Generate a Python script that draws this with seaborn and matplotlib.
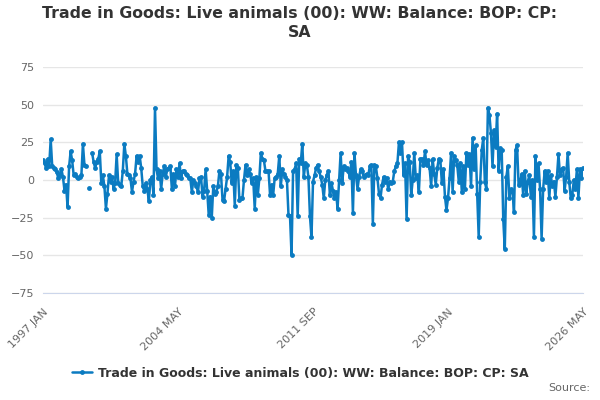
import numpy as np
import pandas as pd
import seaborn as sns
import matplotlib.pyplot as plt

# monthly balance, 1997 JAN .. 2026 MAY
y1997 = [13, 11, 8, 14, 9, 27, 9, 8, 7, 5, 1, 3]
y1998 = [7, 2, -7, -3, -18, 9, 19, 13, 3, 4, 2, 1]
y1999 = [2, 3, 24, 10, 9, np.nan, -5, np.nan, 18, 12, 8, 12]
y2000 = [14, 19, -2, 3, -4, -19, -9, 3, -1, 2, -6, -2]
y2001 = [17, -2, -3, -4, 6, 24, 16, 4, 3, 1, -8, -1]
y2002 = [4, 16, 12, 16, 8, -4, -7, -2, -6, -14, 0, 2]
y2003 = [-10, 48, 7, 1, 6, -6, 4, 9, 2, 7, 8, 9]
y2004 = [-6, 4, -4, 7, 2, 11, 1, 6, 6, 4, 3, 1]
y2005 = [1, -8, 0, -2, -4, -8, 1, 2, -11, -7, 7, -7]
y2006 = [-23, -11, -25, -4, -9, -8, -4, 6, 4, -13, -14, -6]
y2007 = [2, 16, 12, -2, 6, -17, 10, 8, -13, -12, -12, 0]
y2008 = [10, 3, 7, 4, -2, 1, -19, 2, -10, 1, 18, 14]
y2009 = [13, 6, 6, 6, -10, -3, -10, 1, 2, 4, 16, -4]
y2010 = [7, 4, 2, 0, -23, -24, -50, 6, 7, 11, -24, 14]
y2011 = [11, 24, 2, 11, 10, 2, -24, -38, -1, 3, 8, 10]
y2012 = [6, 2, -3, -12, 0, 3, 6, -10, -2, -7, -12, -8]
y2013 = [-19, 0, 18, -2, 9, 7, 8, 6, 2, 12, -22, 18]
y2014 = [3, -6, 2, 7, 6, 2, 3, 4, 3, 9, 10, -29]
y2015 = [10, 9, 1, -9, -12, -3, 2, -1, 1, -6, -1, -2]
y2016 = [-1, 6, 9, 11, 25, 18, 25, 3, 11, -26, 16, 12]
y2017 = [-10, 0, 18, 1, 3, -8, 14, 14, 10, 19, 10, 13]
y2018 = [8, -4, 14, 4, -3, 8, 14, 13, -2, 7, -11, -20]
y2019 = [-12, 1, 18, -8, 16, 13, 10, -1, 11, -8, 9, -6]
y2020 = [18, 10, 17, -4, 28, 7, 23, -9, -38, -1, 20, 28]
y2021 = [-1, -6, 48, 43, 31, 9, 33, 22, 44, 6, 21, 20]
y2022 = [-26, -46, 2, 9, -12, -6, -7, -21, 20, 23, -3, -2]
y2023 = [4, -10, 6, -9, -1, 3, -11, 0, -38, 16, 0, 11]
y2024 = [-6, -39, -6, 6, -1, 6, -12, 3, -4, -1, -11, 2]
y2025 = [17, 3, 7, 8, -7, 2, 18, -1, -12, -10, 0, -6]
y2026 = [7, -12, 7, 1, 8]

tick_labels = ['1997 JAN', '2004 MAY', '2011 SEP', '2019 JAN', '2026 MAY']
series_name = 'Trade in Goods: Live animals (00): WW: Balance: BOP: CP: SA'

values = (y1997 + y1998 + y1999 + y2000 + y2001 + y2002 + y2003 + y2004 + y2005 + y2006
          + y2007 + y2008 + y2009 + y2010 + y2011 + y2012 + y2013 + y2014 + y2015 + y2016
          + y2017 + y2018 + y2019 + y2020 + y2021 + y2022 + y2023 + y2024 + y2025 + y2026)
df = pd.DataFrame({'month': np.arange(len(values)), 'value': values})
# break the line where a month is missing
df['seg'] = df['value'].isna().cumsum()
df = df.dropna()

sns.set_style('white')
plt.rcParams['font.family'] = ['DejaVu Sans']

fig = plt.figure(figsize=(6, 4), dpi=100)
ax = fig.add_axes([0.0717, 0.268, 0.9, 0.564])

line_col = '#0b7bc1'
sns.lineplot(data=df, x='month', y='value', units='seg', ax=ax, color=line_col,
             linewidth=1.8, marker='o', markersize=3.5, markeredgewidth=0,
             estimator=None, legend=False)

ax.set_ylim(-75, 75)
ax.set_yticks([-75, -50, -25, 0, 25, 50, 75])
ax.set_xlim(0, len(values) - 1)
ax.grid(axis='y', color='#e6e6e6', linewidth=1)
ax.set_axisbelow(True)
for s in ['left', 'right', 'top']:
    ax.spines[s].set_visible(False)
ax.spines['bottom'].set_color('#ccd6eb')
ax.tick_params(axis='y', length=0, labelsize=8, labelcolor='#666666', pad=6)

xt = list(range(0, len(values), 22))
ax.set_xticks(xt)
labs = [''] * len(xt)
for k, lab in enumerate(tick_labels):
    labs[k * 4] = lab
ax.set_xticklabels(labs, rotation=45, ha='right', rotation_mode='anchor')
ax.tick_params(axis='x', length=8, color='#ccd6eb', labelsize=8, labelcolor='#666666', pad=2)
ax.set_xlabel('')
ax.set_ylabel('')

fig.suptitle('Trade in Goods: Live animals (00): WW: Balance: BOP: CP:\nSA',
             x=0.5, y=0.985, fontsize=11.3, fontweight='bold', color='#333333',
             va='top', linespacing=1.3)

handle = plt.Line2D([], [], color=line_col, linewidth=1.8, marker='o',
                    markersize=3.5, markeredgewidth=0)
leg = fig.legend([handle], [series_name], loc='center', bbox_to_anchor=(0.5, 0.067),
                 frameon=False, prop={'size': 9, 'weight': 'bold'},
                 handlelength=1.6, handletextpad=0.5)
for t in leg.get_texts():
    t.set_color('#333333')

fig.text(0.983, 0.03, 'Source:', ha='right', va='center', fontsize=8, color='#666666')

fig.savefig('out.png', dpi=100)
